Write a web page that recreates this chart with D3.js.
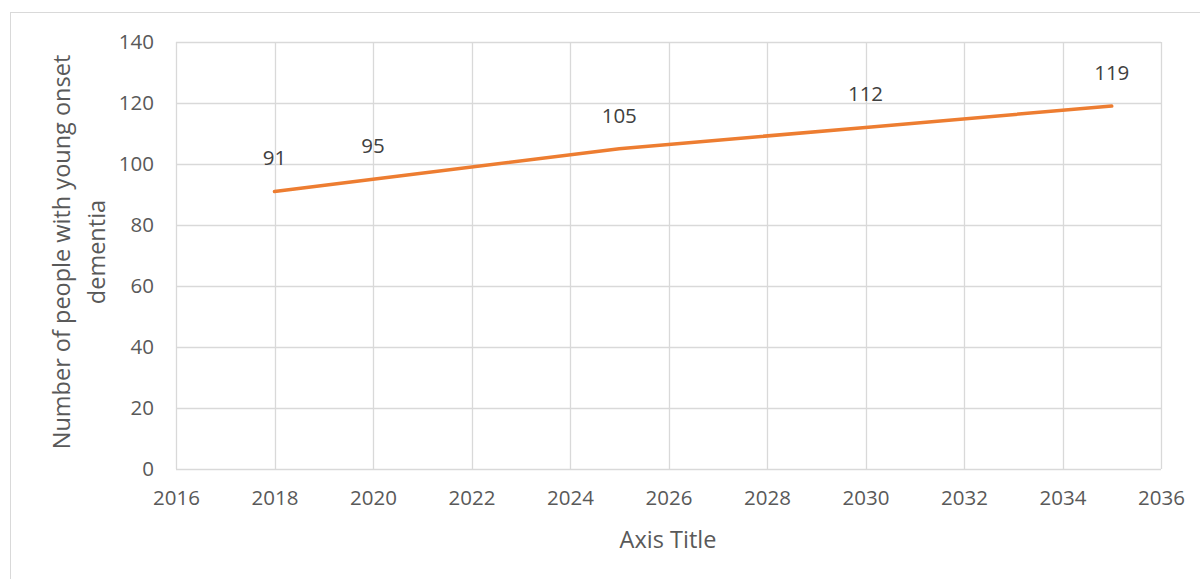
<!DOCTYPE html>
<html>
<head>
<meta charset="utf-8">
<script src="https://cdn.jsdelivr.net/npm/d3@7"></script>
<style>
  body { margin: 0; background: #fff; }
  text { font-family: "Open Sans", "Noto Sans", sans-serif; }
</style>
</head>
<body>
<div id="container"></div>
<script>
const years = [2018, 2020, 2025, 2030, 2035];
const people = [91, 95, 105, 112, 119];
const xTicks = [2016, 2018, 2020, 2022, 2024, 2026, 2028, 2030, 2032, 2034, 2036];
const yTicks = [0, 20, 40, 60, 80, 100, 120, 140];

const width = 1200, height = 579;
const margin = { top: 42, right: 39, bottom: 110, left: 176 };
const plotW = width - margin.left - margin.right;
const plotH = height - margin.top - margin.bottom;

const svg = d3.select("#container")
  .append("svg")
  .attr("width", width)
  .attr("height", height);

// chart frame
svg.append("rect")
  .attr("x", 10.5)
  .attr("y", 12.5)
  .attr("width", 1200)
  .attr("height", 600)
  .attr("fill", "none")
  .attr("stroke", "#d9d9d9");

const g = svg.append("g").attr("transform", `translate(${margin.left},${margin.top})`);

const x = d3.scaleLinear().domain([2016, 2036]).range([0, plotW]);
const y = d3.scaleLinear().domain([0, 140]).range([plotH, 0]);

// gridlines
g.selectAll(".hgrid")
  .data(yTicks)
  .enter()
  .append("line")
  .attr("x1", 0)
  .attr("x2", plotW)
  .attr("y1", d => Math.round(y(d)) + 0.5)
  .attr("y2", d => Math.round(y(d)) + 0.5)
  .attr("stroke", "#d9d9d9")
  .attr("stroke-width", 1.3);

g.selectAll(".vgrid")
  .data(xTicks)
  .enter()
  .append("line")
  .attr("y1", 0)
  .attr("y2", plotH)
  .attr("x1", d => Math.round(x(d)) + 0.5)
  .attr("x2", d => Math.round(x(d)) + 0.5)
  .attr("stroke", "#d9d9d9")
  .attr("stroke-width", 1.3);

// axes (labels only)
const xAxis = g.append("g")
  .attr("transform", `translate(0,${plotH})`)
  .call(d3.axisBottom(x).tickValues(xTicks).tickFormat(d3.format("d")).tickSize(0).tickPadding(21));
const yAxis = g.append("g")
  .call(d3.axisLeft(y).tickValues(yTicks).tickSize(0).tickPadding(22));

[xAxis, yAxis].forEach(a => {
  a.select(".domain").remove();
  a.selectAll("text")
    .attr("fill", "#595959")
    .style("font-size", "20.5px");
});

// line
const line = d3.line()
  .x((d, i) => x(years[i]))
  .y(d => y(d));

g.append("path")
  .datum(people)
  .attr("fill", "none")
  .attr("stroke", "#ed7d31")
  .attr("stroke-width", 3.5)
  .attr("stroke-linecap", "round")
  .attr("d", line);

// data labels
g.selectAll(".label")
  .data(people)
  .enter()
  .append("text")
  .attr("x", (d, i) => x(years[i]))
  .attr("y", d => y(d) - 26)
  .attr("text-anchor", "middle")
  .attr("fill", "#404040")
  .style("font-size", "20.5px")
  .text(d => d);

// axis titles
svg.append("text")
  .attr("x", 668)
  .attr("y", 548)
  .attr("text-anchor", "middle")
  .attr("fill", "#595959")
  .style("font-size", "23.5px")
  .text("Axis Title");

const yTitle = svg.append("text")
  .attr("transform", `translate(70,252) rotate(-90)`)
  .attr("text-anchor", "middle")
  .attr("fill", "#595959")
  .style("font-size", "23.5px");
yTitle.append("tspan").attr("x", 0).attr("dy", 0).text("Number of people with young onset");
yTitle.append("tspan").attr("x", 0).attr("dy", 35).text("dementia");
</script>
</body>
</html>
